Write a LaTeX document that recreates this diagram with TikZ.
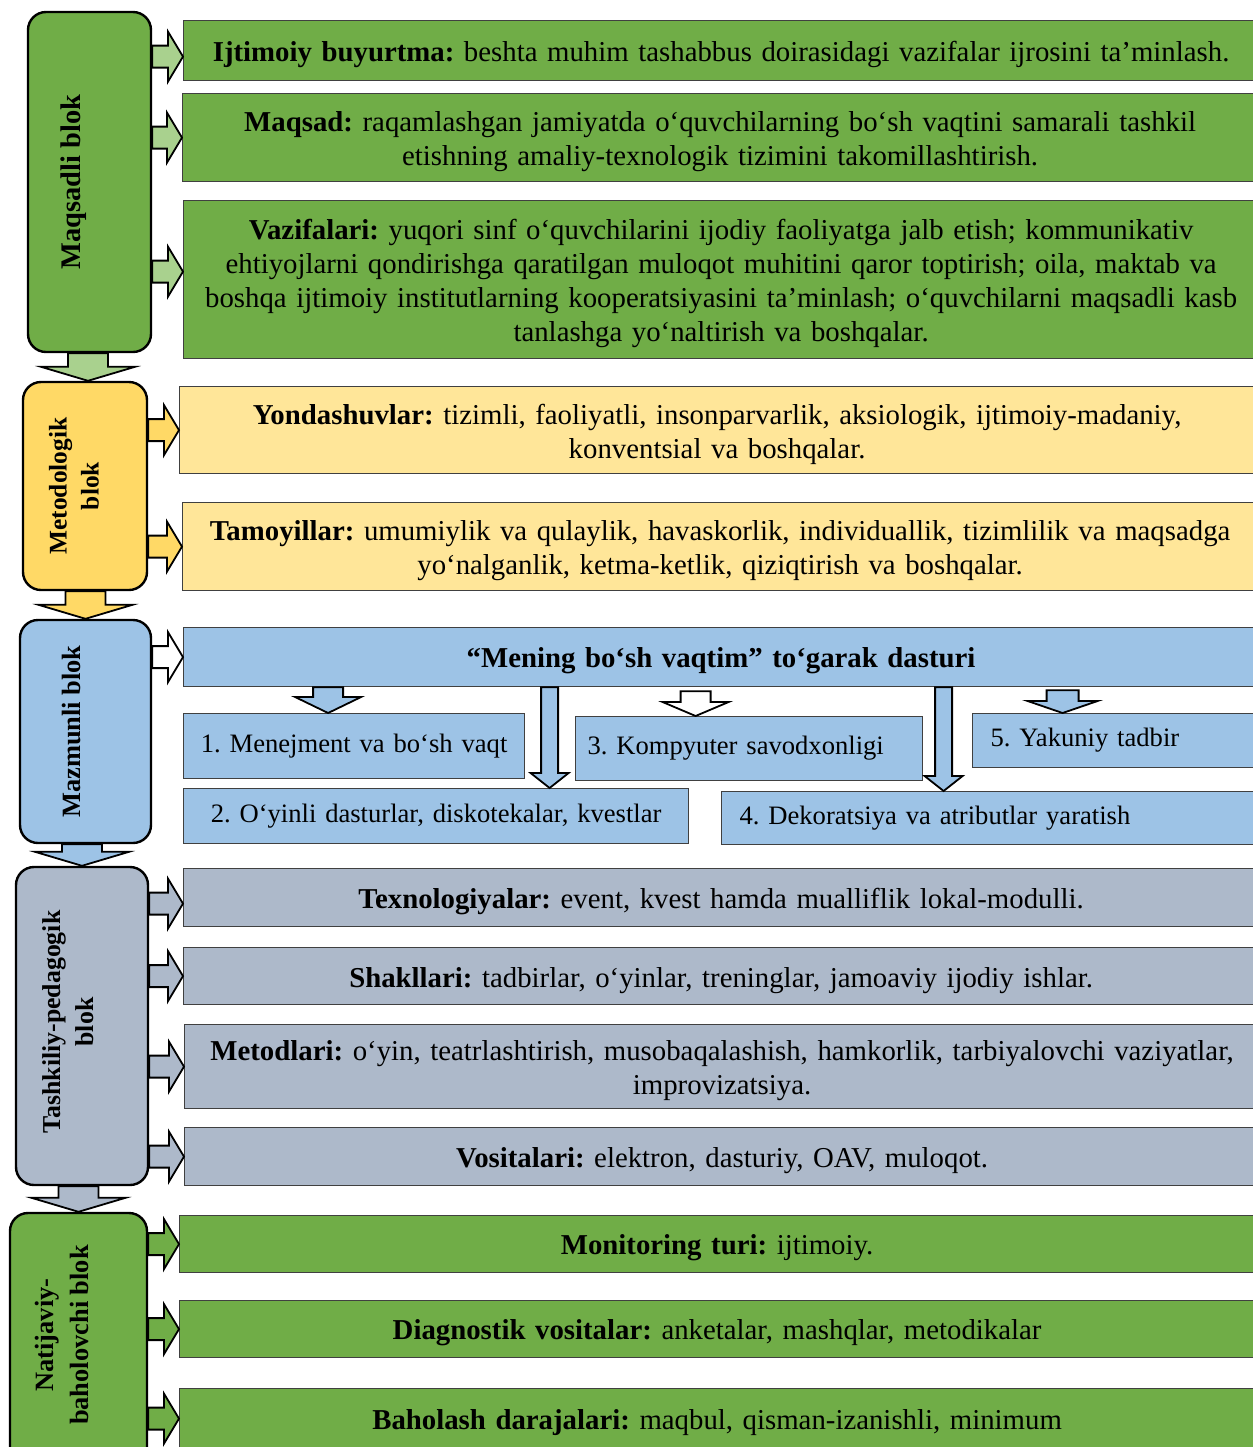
\documentclass[tikz,border=0pt]{standalone}
\usepackage{fontspec}
\setmainfont{Liberation Serif}
\usetikzlibrary{calc}

\definecolor{grn}{HTML}{70AD47}
\definecolor{lgrn}{HTML}{A9D18E}
\definecolor{ylw}{HTML}{FFD966}
\definecolor{lylw}{HTML}{FFE699}
\definecolor{blu}{HTML}{9DC3E6}
\definecolor{gry}{HTML}{ADB9CA}

% block arrows: start, target, fill
\newcommand\rarr[3]{%
  \draw[blockarr, fill=#3] let \p1=#1, \p2=#2 in
    (\x1,\y2+5.5pt) -- (\x2-7.5pt,\y2+5.5pt) -- (\x2-7.5pt,\y2+12.5pt) -- (\x2,\y2)
    -- (\x2-7.5pt,\y2-12.5pt) -- (\x2-7.5pt,\y2-5.5pt) -- (\x1,\y2-5.5pt) -- cycle;}
% start, target, shaft, head, head length, fill
\newcommand\darr[6]{%
  \draw[blockarr, fill=#6] let \p1=#1, \p2=#2 in
    (\x2-#3,\y1) -- (\x2-#3,\y2+#5) -- (\x2-#4,\y2+#5) -- (\x2,\y2)
    -- (\x2+#4,\y2+#5) -- (\x2+#3,\y2+#5) -- (\x2+#3,\y1) -- cycle;}

\begin{document}
\frenchspacing
\begin{tikzpicture}[x=0.5pt,y=-0.5pt]
  \tikzset{
    blok/.style={draw, line width=1.2pt, rounded corners=9pt},
    blabel/.style={rotate=90, align=center, inner sep=0pt},
    box/.style={draw=black!75, line width=0.6pt, anchor=north west, align=center,
      inner xsep=3.75pt, text width=530pt, font=\fontsize{14.4}{17}\selectfont,
      execute at begin node={\rule{0pt}{14pt}}},
    sub/.style={draw=black!75, line width=0.6pt, fill=blu, anchor=north west,
      inner xsep=6pt, font=\fontsize{13.3}{16}\selectfont},
    blockarr/.style={draw, line width=0.9pt, line join=miter},
  }
  \useasboundingbox (0,0) rectangle (1253,1447);

  \node[blok, fill=grn, minimum width=61.5pt, minimum height=170pt] (maq) at (89.5,182) {};
  \node[blabel, font=\bfseries\fontsize{14.2}{17}\selectfont] (maqt) at ([xshift=-7.75pt]maq.center)
    {Maqsadli blok};
  \node[blok, fill=ylw, minimum width=62pt, minimum height=104pt] (met) at (85,486) {};
  \node[blabel, font=\bfseries\fontsize{12.7}{16}\selectfont] (mett) at ([xshift=-5.5pt]met.center)
    {Metodologik\\blok};
  \node[blok, fill=blu, minimum width=65.5pt, minimum height=111.5pt] (maz) at (85.5,731.5) {};
  \node[blabel, font=\bfseries\fontsize{13.2}{17}\selectfont] (mazt) at ([xshift=-6.75pt]maz.center)
    {Mazmunli blok};
  \node[blok, fill=gry, minimum width=66pt, minimum height=159pt] (tash) at (82,1026) {};
  \node[blabel, font=\bfseries\fontsize{12.9}{16.5}\selectfont] (tasht) at ([xshift=-6.75pt,yshift=2pt]tash.center)
    {Tashkiliy-pedagogik\\blok};
  \node[blok, fill=grn, minimum width=68.5pt, minimum height=131pt] (nat) at (78.5,1344) {};
  \node[blabel, font=\bfseries\fontsize{13.2}{17.5}\selectfont] (natt) at ([xshift=-8.25pt,yshift=4.5pt]nat.center)
    {Natijaviy-\\baholovchi blok};

  \node[box, fill=grn, minimum height=30pt] (ijt) at (183,20)
    {\textbf{Ijtimoiy buyurtma:} beshta muhim tashabbus doirasidagi vazifalar ijrosini ta’minlash.};
  \node[box, fill=grn, minimum height=44pt] (maqs) at (182,93)
    {\textbf{Maqsad:} raqamlashgan jamiyatda o‘quvchilarning bo‘sh vaqtini samarali tashkil\\
     etishning amaliy-texnologik tizimini takomillashtirish.};
  \node[box, fill=grn, minimum height=79pt] (vaz) at (183,200)
    {\textbf{Vazifalari:} yuqori sinf o‘quvchilarini ijodiy faoliyatga jalb etish; kommunikativ\\
     ehtiyojlarni qondirishga qaratilgan muloqot muhitini qaror toptirish; oila, maktab va\\
     boshqa ijtimoiy institutlarning kooperatsiyasini ta’minlash; o‘quvchilarni maqsadli kasb\\
     tanlashga yo‘naltirish va boshqalar.};
  \node[box, fill=lylw, minimum height=43.5pt] (yond) at (179,386)
    {\textbf{Yondashuvlar:} tizimli, faoliyatli, insonparvarlik, aksiologik, ijtimoiy-madaniy,\\
     konventsial va boshqalar.};
  \node[box, fill=lylw, minimum height=44pt] (tam) at (182,502)
    {\textbf{Tamoyillar:} umumiylik va qulaylik, havaskorlik, individuallik, tizimlilik va maqsadga\\
     yo‘nalganlik, ketma-ketlik, qiziqtirish va boshqalar.};
  \node[box, fill=blu, minimum height=29.5pt] (dastur) at (183,627)
    {\textbf{“Mening bo‘sh vaqtim” to‘garak dasturi}};

  \node[sub, minimum width=170.5pt, minimum height=32.5pt, text width=158.5pt, align=center] (m1) at (183,713)
    {1. Menejment va bo‘sh vaqt};
  \node[sub, minimum width=252.5pt, minimum height=27.5pt, text width=240.5pt, align=center] (m2) at (183,788)
    {2. O‘yinli dasturlar, diskotekalar, kvestlar};
  \node[sub, minimum width=173.5pt, minimum height=32pt, text width=161.5pt, align=left] (m3) at (575,716)
    {3. Kompyuter savodxonligi};
  \node[sub, minimum width=268.5pt, minimum height=26.5pt, text width=250.5pt, align=left, inner xsep=9pt] (m4) at (721,791)
    {4. Dekoratsiya va atributlar yaratish};
  \node[sub, minimum width=143pt, minimum height=27pt, text width=125pt, align=left, inner xsep=9pt] (m5) at (972,713)
    {5. Yakuniy tadbir};

  \node[box, fill=gry, minimum height=29pt] (texn) at (183,868)
    {\textbf{Texnologiyalar:} event, kvest hamda mualliflik lokal-modulli.};
  \node[box, fill=gry, minimum height=28.5pt] (shakl) at (183,947)
    {\textbf{Shakllari:} tadbirlar, o‘yinlar, treninglar, jamoaviy ijodiy ishlar.};
  \node[box, fill=gry, minimum height=42pt] (metod) at (184,1024)
    {\textbf{Metodlari:} o‘yin, teatrlashtirish, musobaqalashish, hamkorlik, tarbiyalovchi vaziyatlar,\\
     improvizatsiya.};
  \node[box, fill=gry, minimum height=29pt] (vosit) at (184,1127)
    {\textbf{Vositalari:} elektron, dasturiy, OAV, muloqot.};
  \node[box, fill=grn, minimum height=28.5pt] (monit) at (179,1215)
    {\textbf{Monitoring turi:} ijtimoiy.};
  \node[box, fill=grn, minimum height=28.5pt] (diag) at (179,1300)
    {\textbf{Diagnostik vositalar:} anketalar, mashqlar, metodikalar};
  \node[box, fill=grn, minimum height=30pt] (bahol) at (179,1388)
    {\textbf{Baholash darajalari:} maqbul, qisman-izanishli, minimum};

  \rarr{(maq.east)}{([yshift=-3pt]ijt.west)}{lgrn}
  \rarr{(maq.east)}{(maqs.west)}{lgrn}
  \rarr{(maq.east)}{([yshift=4pt]vaz.west)}{lgrn}
  \rarr{(met.east)}{(yond.west)}{ylw}
  \rarr{(met.east)}{(tam.west)}{ylw}
  \rarr{(maz.east)}{(dastur.west)}{white}
  \rarr{(tash.east)}{([yshift=-3pt]texn.west)}{gry}
  \rarr{(tash.east)}{(shakl.west)}{gry}
  \rarr{(tash.east)}{(metod.west)}{gry}
  \rarr{(tash.east)}{(vosit.west)}{gry}
  \rarr{(nat.east)}{(monit.west)}{grn}
  \rarr{(nat.east)}{(diag.west)}{grn}
  \rarr{(nat.east)}{(bahol.west)}{grn}

  \darr{(maq.south)}{([xshift=1.5pt]met.north)}{10pt}{23.5pt}{7pt}{lgrn}
  \darr{(met.south)}{(maz.north)}{10pt}{23.5pt}{7pt}{ylw}
  \darr{(maz.south)}{(tash.north)}{10pt}{23.5pt}{7pt}{blu}
  \darr{(tash.south)}{(nat.north)}{10pt}{23.5pt}{7pt}{gry}

  \darr{(dastur.south)}{([xshift=-13pt]m1.north)}{7.5pt}{16.5pt}{8pt}{blu}
  \darr{(dastur.south)}{([xshift=56.75pt]m2.north)}{4.25pt}{9.5pt}{7.5pt}{blu}
  \darr{([yshift=-2pt]dastur.south)}{([xshift=-26.75pt]m3.north)}{7.5pt}{16.5pt}{7pt}{white}
  \darr{(dastur.south)}{([xshift=-23.25pt]m4.north)}{4.25pt}{9.5pt}{7.5pt}{blu}
  \darr{([yshift=-1.5pt]dastur.south)}{([xshift=-26.5pt]m5.north)}{8pt}{17.5pt}{6pt}{blu}
\end{tikzpicture}
\end{document}
